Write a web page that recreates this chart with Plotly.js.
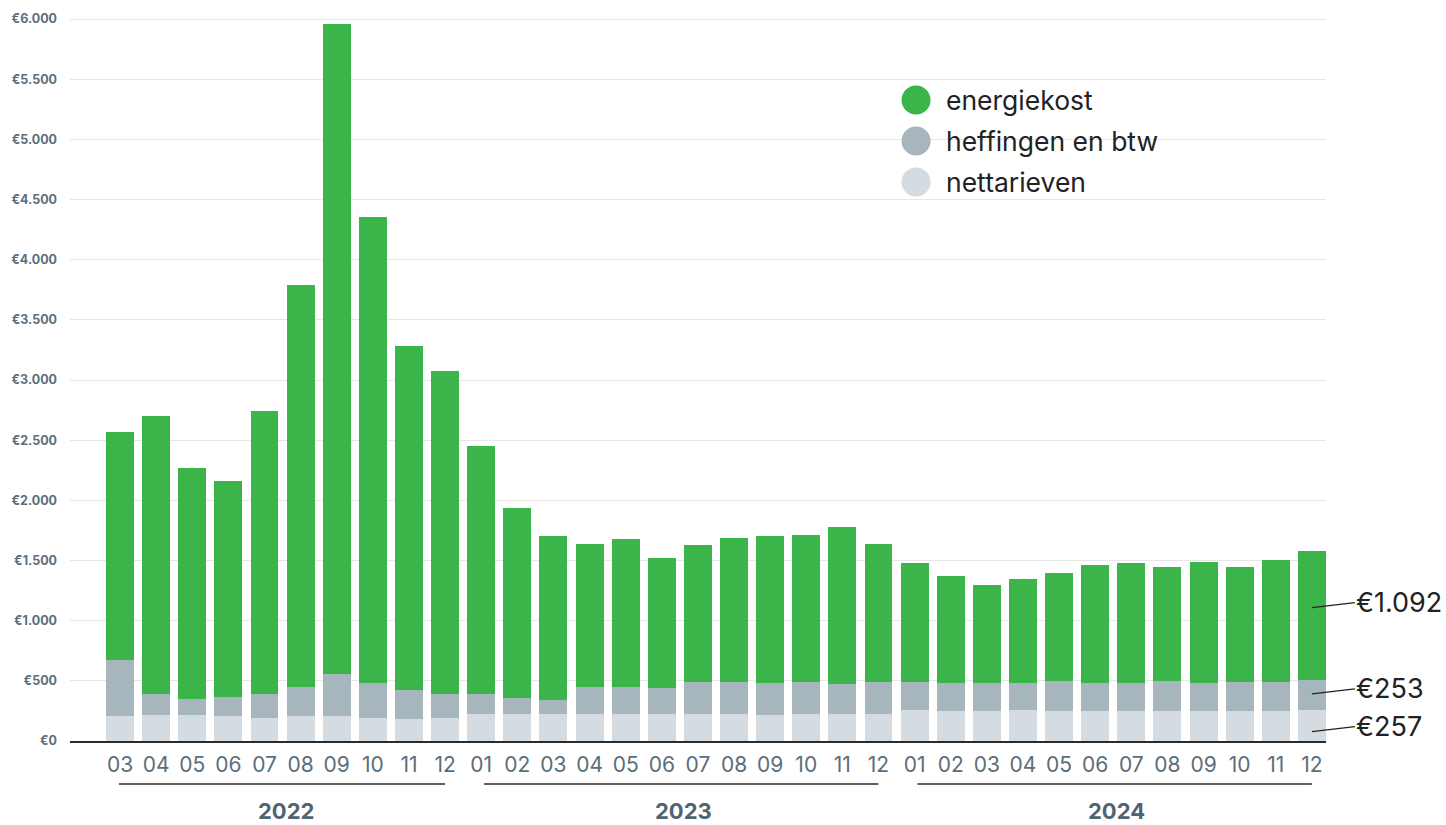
<!DOCTYPE html>
<html>
<head>
<meta charset="utf-8">
<script src="https://cdn.plot.ly/plotly-3.0.1.min.js"></script>
<style>
  html, body { margin: 0; padding: 0; background: #ffffff; }
  #chart { width: 1446px; height: 825px; }
</style>
</head>
<body>
<div id="chart"></div>
<script>
// Months (period labels) and the year each belongs to
const months = ["03","04","05","06","07","08","09","10","11","12",
                "01","02","03","04","05","06","07","08","09","10","11","12",
                "01","02","03","04","05","06","07","08","09","10","11","12"];
const years = ["2022","2023","2024"];
const yearOfMonth = [2022,2022,2022,2022,2022,2022,2022,2022,2022,2022,
                     2023,2023,2023,2023,2023,2023,2023,2023,2023,2023,2023,2023,
                     2024,2024,2024,2024,2024,2024,2024,2024,2024,2024,2024,2024];

// Series values (EUR)
const nettarieven = [204,212,212,204,195,204,204,195,187,195,
                     222,224,224,224,224,224,224,224,216,224,224,224,
                     258,249,249,258,249,249,249,249,249,249,249,257];
const heffingen   = [473,175,133,158,192,241,357,291,233,192,
                     167,133,117,225,225,217,266,266,266,266,250,266,
                     232,233,233,224,250,233,233,250,233,241,241,253];
const energiekost = [1887,2318,1920,1795,2352,3341,5400,3866,2863,2689,
                     2061,1576,1359,1192,1226,1084,1135,1201,1218,1218,1301,1151,
                     988,887,813,863,895,979,996,946,1004,955,1012,1068];

const seriesNames = ["energiekost","heffingen en btw","nettarieven"];
const lastLabels = ["€1.092","€253","€257"];

const colGreen = "#3bb54a";
const colGrey = "#a7b5bd";
const colLight = "#d4dbe1";
const tickCol = "#5b6e7a";
const FONT = "Inter, 'Open Sans', sans-serif";

const xs = months.map((m, i) => i);

function barTrace(name, vals, color) {
  return {
    type: "bar", name: name, x: xs, y: vals,
    marker: { color: color, line: { width: 0 } },
    hoverinfo: "skip", showlegend: false
  };
}

const traces = [
  barTrace(seriesNames[2], nettarieven, colLight),
  barTrace(seriesNames[1], heffingen, colGrey),
  barTrace(seriesNames[0], energiekost, colGreen)
];

// Year groups: start/end index per year
const shapes = [];
const annotations = [];
years.forEach((y) => {
  const idx = yearOfMonth.map((v, i) => v === +y ? i : -1).filter(i => i >= 0);
  const a = idx[0], b = idx[idx.length - 1];
  shapes.push({
    type: "line", xref: "x", yref: "paper",
    x0: a === 0 ? a - 0.03 : a + 0.08, x1: b + 0.0, y0: -0.0594, y1: -0.0594,
    line: { color: "#2b2b2b", width: 1.5 }
  });
  annotations.push({
    xref: "x", yref: "paper", x: (a + b) / 2 + 0.1, y: -0.096,
    text: "<b>" + y + "</b>", showarrow: false,
    xanchor: "center", yanchor: "middle",
    font: { family: FONT, size: 22, color: "#4f6472" }
  });
});

// Custom legend (circles + text)
const legendColors = [colGreen, colGrey, colLight];
const legendY = [0.8854, 0.8287, 0.7721];
seriesNames.forEach((n, i) => {
  shapes.push({
    type: "circle", xref: "paper", yref: "paper",
    xsizemode: "pixel", ysizemode: "pixel",
    xanchor: 0.6736, yanchor: legendY[i],
    x0: -14.5, x1: 14.5, y0: -14.5, y1: 14.5,
    fillcolor: legendColors[i], line: { width: 0 }
  });
  annotations.push({
    xref: "paper", yref: "paper", x: 0.6955, y: legendY[i],
    text: n, showarrow: false, xanchor: "left", yanchor: "middle",
    font: { family: FONT, size: 26.5, color: "#222222" }
  });
});

// Labels for last bar segments, with leader lines
const last = months.length - 1;
const segBase = [nettarieven[last] + heffingen[last], nettarieven[last], 0];
const segVal = [energiekost[last], heffingen[last], nettarieven[last]];
const segFrac = [0.56, 0.53, 0.3];
lastLabels.forEach((t, i) => {
  annotations.push({
    xref: "x", yref: "y", x: last, y: segBase[i] + segVal[i] * segFrac[i],
    text: t, showarrow: true, arrowhead: 0, arrowwidth: 1.2, arrowcolor: "#222222",
    ax: 43, ay: -5, xanchor: "left", yanchor: "middle", standoff: 0, borderpad: 0,
    font: { family: FONT, size: 27, color: "#222222" }
  });
});

const layout = {
  width: 1446, height: 825,
  margin: { l: 70, r: 120, t: 17, b: 84 },
  paper_bgcolor: "#ffffff", plot_bgcolor: "#ffffff",
  barmode: "stack", bargap: 0.225,
  separators: ",.",
  hovermode: false,
  showlegend: false,
  font: { family: FONT },
  xaxis: {
    range: [-1.385, 33.39],
    tickvals: xs, ticktext: months,
    tickfont: { family: FONT, size: 21, color: tickCol },
    showgrid: false, zeroline: false,
    showline: true, linecolor: "#2b2b2b", linewidth: 1.5,
    ticks: "", ticklabelstandoff: 4, fixedrange: true
  },
  yaxis: {
    range: [0, 6017],
    dtick: 500, tick0: 0,
    tickprefix: "€", tickformat: ",d",
    tickfont: { family: FONT, size: 12.5, color: tickCol, weight: "bold" },
    showgrid: true, gridcolor: "#e6e6e6", gridwidth: 1,
    zeroline: false, showline: false, ticks: "",
    ticklabelstandoff: 12, fixedrange: true
  },
  shapes: shapes,
  annotations: annotations
};

Plotly.newPlot("chart", traces, layout, { displayModeBar: false, staticPlot: true });
</script>
</body>
</html>
